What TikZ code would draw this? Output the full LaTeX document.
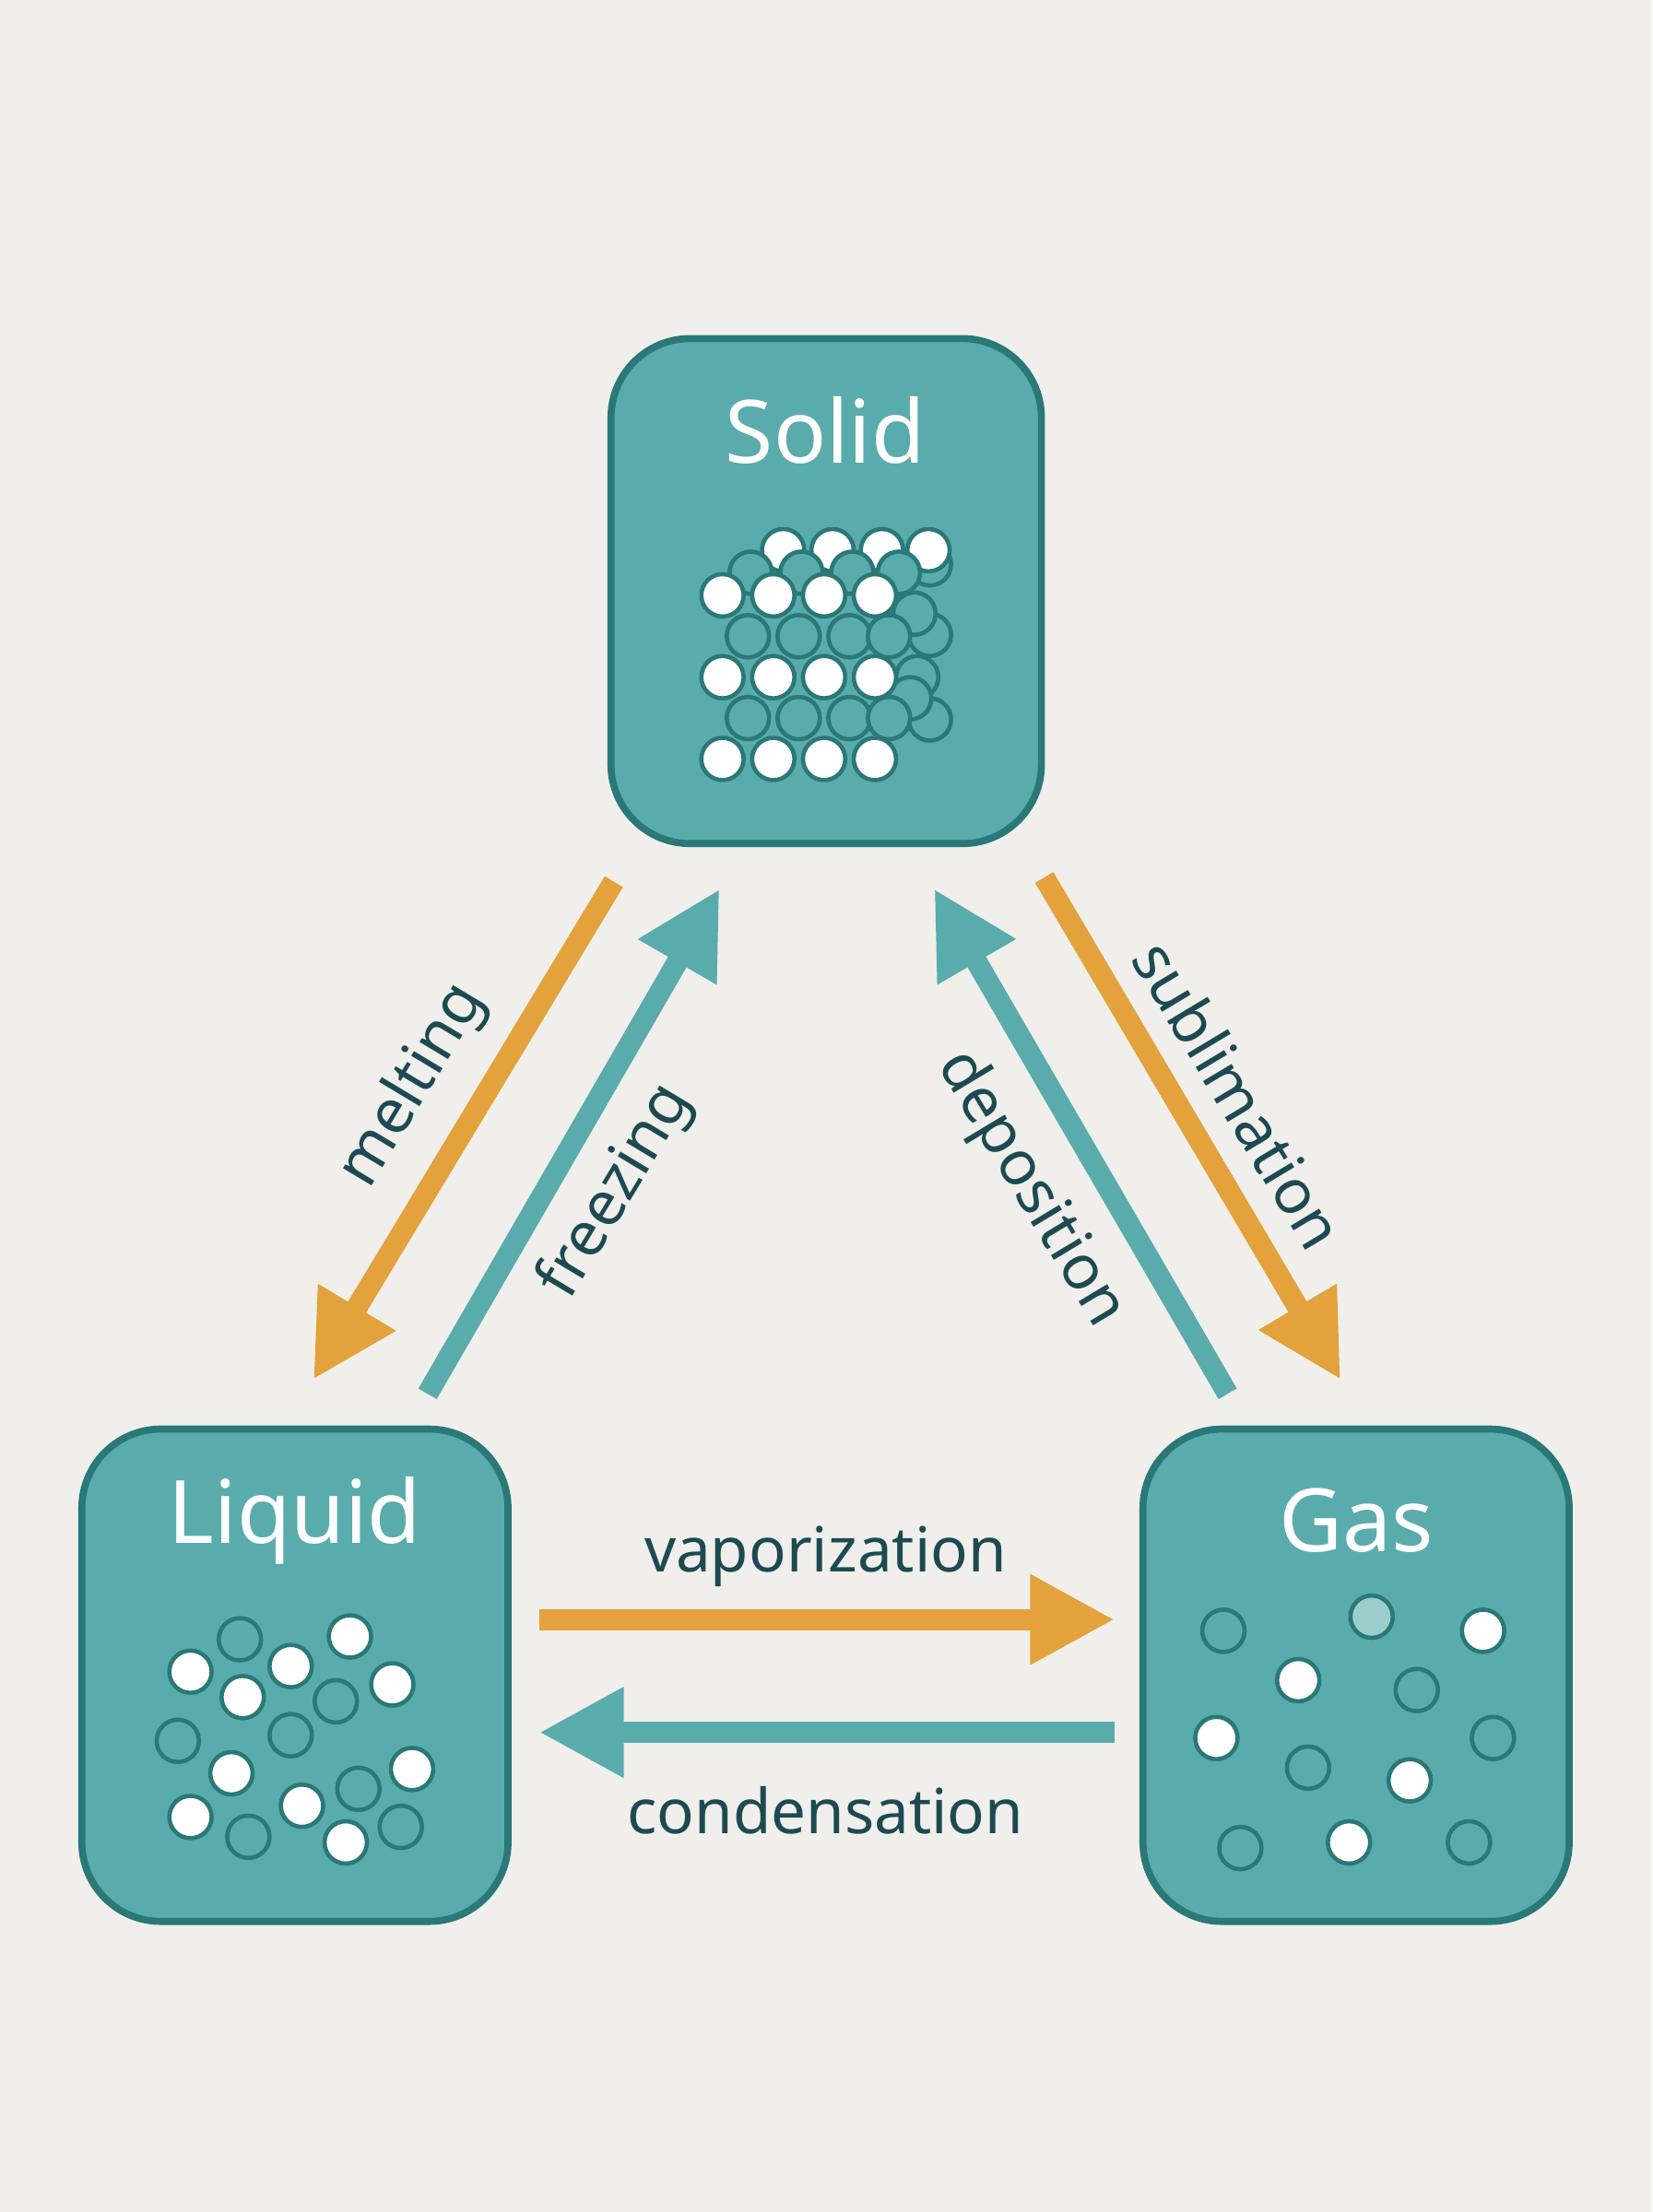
\documentclass[tikz,border=0pt]{standalone}
\usepackage{fontspec}
\setmainfont{Noto Sans}
\usetikzlibrary{arrows.meta}
\definecolor{bg}{HTML}{F0EFEB}
\definecolor{box}{HTML}{5AACAC}
\definecolor{edge}{HTML}{2A7878}
\definecolor{org}{HTML}{E3A23B}
\definecolor{tl}{HTML}{5AACAC}
\definecolor{txt}{HTML}{1D4A52}
\begin{document}
\begin{tikzpicture}[x=0.5pt,y=-0.5pt,
 phase/.style={draw=edge,fill=box,line width=2.5pt,rounded corners=28pt},
 ttl/.style={text=white,font=\fontsize{31}{36}\selectfont},
 pw/.style={circle,draw=edge,fill=white,line width=1.5pt,minimum size=15pt,inner sep=0pt},
 pt/.style={circle,draw=edge,fill=box,line width=1.5pt,minimum size=15pt,inner sep=0pt},
 pl/.style={circle,draw=edge,fill=box!60!white,line width=1.5pt,minimum size=15pt,inner sep=0pt},
 ao/.style={draw=org,line width=7.5pt,-{Triangle[length=30pt,width=30pt]}},
 atl/.style={draw=tl,line width=7.5pt,-{Triangle[length=30pt,width=30pt]}},
 lab/.style={text=txt,font=\fontsize{22}{26}\selectfont}]
\fill[bg] (0,0) rectangle (1171,1568);
\useasboundingbox (0,0) rectangle (1171,1568);
\draw[phase] (433,240) rectangle (738,598);
\draw[phase] (58,1013) rectangle (360,1362);
\draw[phase] (810,1013) rectangle (1112,1362);
\node[ttl] (ts) at (585,305) {Solid};
\node[ttl] (tl) at (209,1078) {Liquid};
\node[ttl] (tg) at (961,1078) {Gas};
% solid lattice
\foreach \y/\x in {400/659,450/659,480/650,510/659,435/648,495/645}{\node[pt] at (\x,\y) {};}
\foreach \x in {555,590,625,658}{\node[pw] at (\x,390) {};}
\foreach \x in {532,568,604,637}{\node[pt] at (\x,406) {};}
\foreach \y in {422,480,538}{\foreach \x in {512,548,584,620}{\node[pw] at (\x,\y) {};}}
\foreach \y in {451,509}{\foreach \x in {530,566,602}{\node[pt] at (\x,\y) {};}}
\foreach \y in {451,509}{\node[pt] at (630,\y) {};}
% liquid
\foreach \x/\y in {135/1185,206/1181,248/1160,278/1194,172/1203,164/1257,292/1254,135/1288,214/1280,245/1306}{\node[pw] at (\x,\y) {};}
\foreach \x/\y in {170/1162,238/1206,126/1234,206/1230,254/1268,176/1302,284/1295}{\node[pt] at (\x,\y) {};}
% gas
\foreach \x/\y in {867/1156,1004/1198,1058/1232,927/1253,879/1310,1041/1306}{\node[pt] at (\x,\y) {};}
\node[pl] at (972,1146) {};
\foreach \x/\y in {1051/1156,920/1191,862/1232,999/1262,956/1306}{\node[pw] at (\x,\y) {};}
% arrows
\coordinate (m1) at (435,625); \coordinate (m2) at (222,978);
\coordinate (f1) at (303,988); \coordinate (f2) at (510,630);
\coordinate (d1) at (870,988); \coordinate (d2) at (662,630);
\coordinate (s1) at (740,622); \coordinate (s2) at (950,978);
\coordinate (v1) at (382,1148); \coordinate (v2) at (790,1148);
\coordinate (c1) at (790,1228); \coordinate (c2) at (382,1228);
\draw[ao] (m1) -- (m2);
\draw[atl] (f1) -- (f2);
\draw[atl] (d1) -- (d2);
\draw[ao] (s1) -- (s2);
\draw[ao] (v1) -- (v2);
\draw[atl] (c1) -- (c2);
\node[lab,rotate=59] (lm) at (293,770) {melting};
\node[lab,rotate=59] (lf) at (437,845) {freezing};
\node[lab,rotate=-59] (ld) at (730,843) {deposition};
\node[lab,rotate=-59] (lsu) at (878,776) {sublimation};
\node[lab] (lv) at (585,1103) {vaporization};
\node[lab] (lc) at (585,1283) {condensation};
\end{tikzpicture}
\end{document}
